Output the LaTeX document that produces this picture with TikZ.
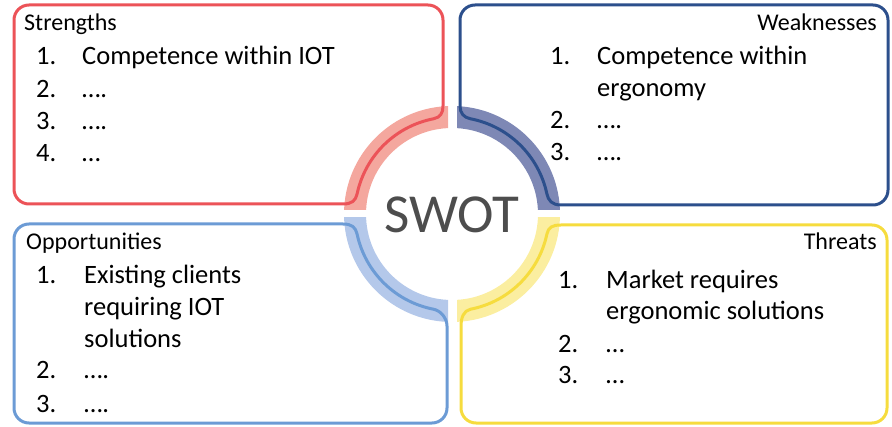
\documentclass[tikz,border=0pt]{standalone}
\usepackage{fontspec}
\setmainfont{Carlito}
\definecolor{lineR}{HTML}{EC5358}
\definecolor{ringR}{HTML}{F4A79E}
\definecolor{lineN}{HTML}{2C4F8C}
\definecolor{ringN}{HTML}{7E88B5}
\definecolor{lineB}{HTML}{6C9BD5}
\definecolor{ringB}{HTML}{B4C8EA}
\definecolor{lineY}{HTML}{F6DC3E}
\definecolor{ringY}{HTML}{FBEEA0}
\definecolor{swotgray}{HTML}{4D4D4D}
\begin{document}
\begin{tikzpicture}[x=1pt,y=1pt,
  hdr/.style={inner sep=0pt, font=\fontsize{24}{28}\selectfont, text=black},
  itm/.style={inner sep=0pt, anchor=base west, font=\fontsize{26.5}{32}\selectfont, text=black},
  edge/.style={line width=3pt, line join=round}]
\useasboundingbox (0,0) rectangle (892,426);
\coordinate (C) at (452,212);
% ring quadrants
\begin{scope}
\clip (0,216) rectangle (448,426);
\fill[ringR, even odd rule] (C) circle[radius=108] (C) circle[radius=86];
\end{scope}
\begin{scope}
\clip (457,216) rectangle (892,426);
\fill[ringN, even odd rule] (C) circle[radius=108] (C) circle[radius=86];
\end{scope}
\begin{scope}
\clip (0,0) rectangle (448,208);
\fill[ringB, even odd rule] (C) circle[radius=108] (C) circle[radius=86];
\end{scope}
\begin{scope}
\clip (457,0) rectangle (892,208);
\fill[ringY, even odd rule] (C) circle[radius=108] (C) circle[radius=86];
\end{scope}
% Strengths outline
\draw[edge, lineR] (343,222) -- (29,222) arc[start angle=270,end angle=180,radius=15]
  -- (14,406) arc[start angle=180,end angle=90,radius=15]
  -- (428,421) arc[start angle=90,end angle=0,radius=15]
  -- (443,320) .. controls (443,313) and (440.4,308.5) .. ([shift={(101:97)}]C)
  arc[start angle=101,end angle=168,radius=97]
  .. controls (355.6,225.4) and (352,222) .. (343,222) -- cycle;
% Weaknesses outline
\draw[edge, lineN] (561,221) -- (873,221) arc[start angle=270,end angle=360,radius=15]
  -- (888,406) arc[start angle=0,end angle=90,radius=15]
  -- (475,421) arc[start angle=90,end angle=180,radius=15]
  -- (460,320) .. controls (460,313) and (463.6,308.5) .. ([shift={(79:97)}]C)
  arc[start angle=79,end angle=12,radius=97]
  .. controls (548.4,225.4) and (552,221) .. (561,221) -- cycle;
% Opportunities outline
\draw[edge, lineB] (343,202) .. controls (352,202) and (355.6,198.6) .. ([shift={(192:97)}]C)
  arc[start angle=192,end angle=259,radius=97]
  .. controls (440.4,115.5) and (447,108) .. (447,100)
  -- (447,18) arc[start angle=0,end angle=-90,radius=15]
  -- (29,3) arc[start angle=270,end angle=180,radius=15]
  -- (14,187) arc[start angle=180,end angle=90,radius=15]
  -- cycle;
% Threats outline
\draw[edge, lineY] (461,100) .. controls (461,108) and (463.6,115.5) .. ([shift={(281:97)}]C)
  arc[start angle=281,end angle=348,radius=97]
  .. controls (548.4,198.6) and (552,201) .. (561,201)
  -- (872,201) arc[start angle=90,end angle=0,radius=15]
  -- (887,18) arc[start angle=0,end angle=-90,radius=15]
  -- (476,3) arc[start angle=270,end angle=180,radius=15]
  -- cycle;
% centre
\node[inner sep=0pt, anchor=base, font=\fontsize{55}{60}\selectfont, text=swotgray] (swot) at (452,193) {SWOT};
% Strengths text
\node[hdr, anchor=base west] (sh) at (24,395) {Strengths};
\node[itm] (s1n) at (36,361) {1.};
\node[itm] (s1) at (82,361) {Competence within IOT};
\node[itm] (s2n) at (36,328.7) {2.};
\node[itm] (s2) at (82,328.7) {….};
\node[itm] (s3n) at (36,296.4) {3.};
\node[itm] (s3) at (82,296.4) {….};
\node[itm] (s4n) at (36,264) {4.};
\node[itm] (s4) at (82,264) {…};
% Weaknesses text
\node[hdr, anchor=base east] (wh) at (877,395) {Weaknesses};
\node[itm] (w1n) at (550,361) {1.};
\node[itm] (w1a) at (597,361) {Competence within};
\node[itm] (w1b) at (597,329) {ergonomy};
\node[itm] (w2n) at (550,297) {2.};
\node[itm] (w2) at (597,297) {….};
\node[itm] (w3n) at (550,265) {3.};
\node[itm] (w3) at (597,265) {….};
% Opportunities text
\node[hdr, anchor=base west] (oh) at (26,176) {Opportunities};
\node[itm] (o1n) at (36,142) {1.};
\node[itm] (o1a) at (84,142) {Existing clients};
\node[itm] (o1b) at (84,110) {requiring IOT};
\node[itm] (o1c) at (84,78) {solutions};
\node[itm] (o2n) at (36,47) {2.};
\node[itm] (o2) at (84,47) {….};
\node[itm] (o3n) at (36,14) {3.};
\node[itm] (o3) at (84,14) {….};
% Threats text
\node[hdr, anchor=base east] (th) at (877,176) {Threats};
\node[itm] (t1n) at (558,137) {1.};
\node[itm] (t1a) at (606,137) {Market requires};
\node[itm] (t1b) at (606,106) {ergonomic solutions};
\node[itm] (t2n) at (558,74) {2.};
\node[itm] (t2) at (606,74) {…};
\node[itm] (t3n) at (558,42) {3.};
\node[itm] (t3) at (606,42) {…};
\end{tikzpicture}
\end{document}
